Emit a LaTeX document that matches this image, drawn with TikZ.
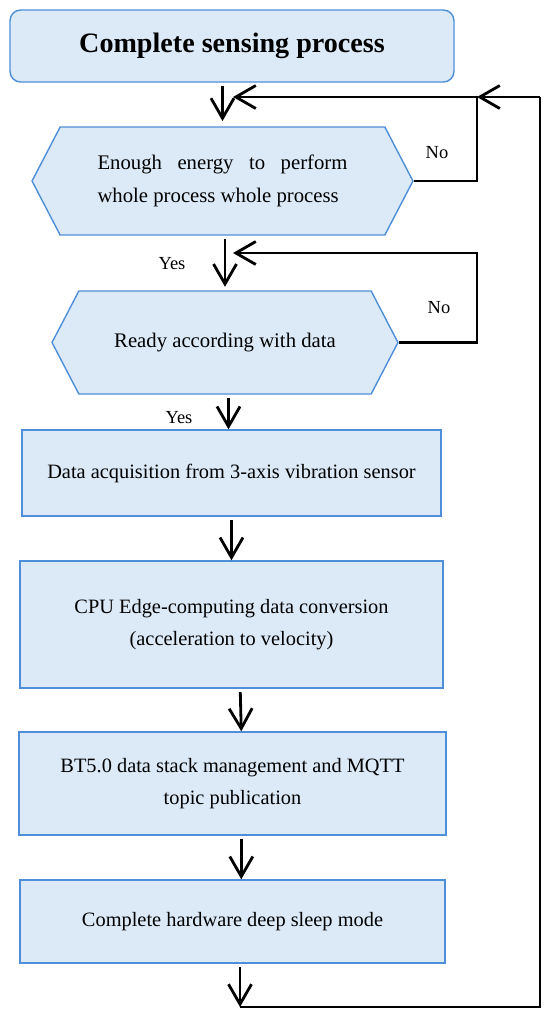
\documentclass[tikz,border=0pt]{standalone}
\usepackage{fontspec}
\setmainfont{Liberation Serif}
\usepackage{xcolor}
\usetikzlibrary{positioning, arrows.meta, shapes.symbols}
\definecolor{boxfill}{HTML}{DCEAF7}
\definecolor{boxline}{HTML}{4F8FD9}

\begin{document}
\begin{tikzpicture}[
    x=0.02cm, y=-0.02cm,
    stepbox/.style={rectangle, draw=boxline, fill=boxfill, line width=0.8pt, align=center, inner sep=0pt, font=\fontsize{11.6}{18.5}\selectfont},
    startbox/.style={stepbox, rounded corners=6pt, font=\fontsize{16}{18}\selectfont\bfseries},
    decision/.style={signal, signal to=east and west, signal pointer angle=125, draw=boxline, fill=boxfill, line width=0.8pt, inner sep=0pt, align=center, font=\fontsize{11.8}{18.5}\selectfont},
    answer/.style={font=\fontsize{10.5}{12}\selectfont},
    arrow/.style={-{Straight Barb[length=0.4cm,width=0.46cm]}, line width=1.6pt},
    loopline/.style={line width=1.6pt}
]
\useasboundingbox (0,0) rectangle (550,1019);

% Nodes
\node[startbox, minimum width=8.88cm, minimum height=1.44cm] (start) at (232,46) {Complete sensing process};

\node[decision, minimum width=7.62cm, minimum height=2.16cm, text width=5cm, align=justify] (energy) at (222.5,181) {Enough energy to perform\linebreak whole process whole process};

\node[decision, minimum width=6.92cm, minimum height=2.06cm] (ready) at (225,342.5) {Ready according with data};

\node[stepbox, minimum width=8.38cm, minimum height=1.72cm] (acquire) at (231.5,473) {Data acquisition from 3-axis vibration sensor};

\node[stepbox, minimum width=8.46cm, minimum height=2.54cm] (convert) at (231.5,624.5) {CPU Edge-computing data conversion\\(acceleration to velocity)};

\node[stepbox, minimum width=8.54cm, minimum height=2.06cm] (publish) at (232.5,783.5) {BT5.0 data stack management and MQTT\\topic publication};

\node[stepbox, minimum width=8.5cm, minimum height=1.66cm] (sleep) at (232.5,921.5) {Complete hardware deep sleep mode};

% Loop points
\coordinate (mergeA) at (233,97);
\coordinate (loopA) at (477,97);
\coordinate (mergeB) at (233,253);
\coordinate (loopB) at (477,253);
\coordinate (sleepout) at (240,1007);
\coordinate (outer) at (540,97);

% Arrows
\draw[arrow] ([yshift=-2pt]start.south -| energy.north) -- ([yshift=3pt]energy.north);
\draw[arrow] ([yshift=-2pt]energy.south -| ready.north) -- ([yshift=2pt]ready.north);
\draw[arrow] ([xshift=2pt,yshift=-2pt]ready.south) -- ([xshift=2pt]ready.south |- acquire.north);
\draw[arrow] ([yshift=-2pt]acquire.south) -- (convert.north);
\draw[arrow] ([xshift=5pt,yshift=-2pt]convert.south) -- ([xshift=5pt]publish.north);
\draw[arrow] ([xshift=5pt,yshift=-2pt]publish.south) -- ([xshift=5pt]sleep.north);
\draw[arrow] ([yshift=-2pt]sleep.south -| sleepout) -- (sleepout);

\draw[arrow] (energy.east) -| (loopA) -- (mergeA);
\draw[arrow] (ready.east) -| (loopB) -- (mergeB);
\draw[loopline] (sleepout) -| (outer);
\draw[arrow] (outer) -- (loopA);

% Annotations
\node[answer] (noA) at (437,153) {No};
\node[answer] (noB) at (439,308) {No};
\node[answer] (yesA) at (172,264) {Yes};
\node[answer] (yesB) at (179,418) {Yes};

\end{tikzpicture}
\end{document}
